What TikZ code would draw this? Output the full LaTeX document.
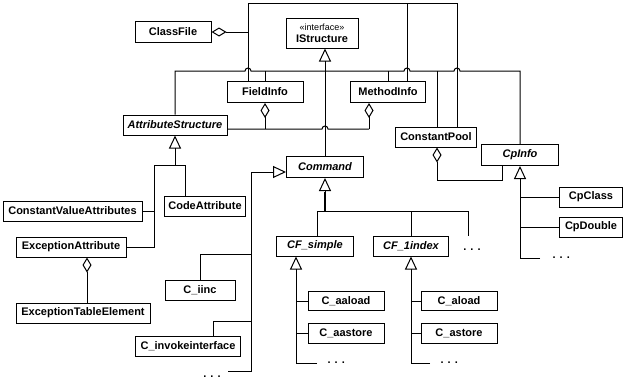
\documentclass[tikz,border=0pt]{standalone}
\usepackage{fontspec}
\setmainfont{Liberation Sans}
\usetikzlibrary{arrows.meta, positioning}
\tikzstyle{classbox} = [
    rectangle,
    minimum height=20pt,
    inner sep=0pt,
    draw=black,
    font=\fontsize{11}{12}\selectfont\bfseries
]
\tikzstyle{abstractbox} = [
    classbox,
    font=\fontsize{11}{12}\selectfont\bfseries\itshape
]
\tikzstyle{dots} = [
    inner sep=0pt,
    font=\fontsize{11}{12}\selectfont\bfseries
]
\tikzstyle{inherit} = [-{Triangle[open,length=13pt,width=12pt]}]
\tikzstyle{aggreg} = [{Diamond[open,length=15pt,width=9pt]}-]

\begin{document}
\begin{tikzpicture}[x=1pt, y=-1pt, line width=1pt]
\useasboundingbox (0,0) rectangle (637,388);

\node (classfile) [classbox, minimum width=76pt, minimum height=21pt] at (173,32) {ClassFile};
\node (istructure) [classbox, minimum width=72pt, minimum height=30pt, align=center] at (322,33)
{{\mdseries\fontsize{9}{10}\selectfont «interface»}\\IStructure};
\node (fieldinfo) [classbox, minimum width=76pt, minimum height=21pt] at (265,92) {FieldInfo};
\node (methodinfo) [classbox, minimum width=75pt, minimum height=21pt] at (388,92) {MethodInfo};
\node (attrstruct) [abstractbox, minimum width=104pt] at (175,125) {AttributeStructure};
\node (constantpool) [classbox, minimum width=81pt] at (436,137) {ConstantPool};
\node (cpinfo) [abstractbox, minimum width=77pt, minimum height=21pt] at (520,155) {CpInfo};
\node (command) [abstractbox, minimum width=77pt, minimum height=21pt] at (325,167) {Command};
\node (cpclass) [classbox, minimum width=63pt] at (591,197) {CpClass};
\node (cpdouble) [classbox, minimum width=63pt] at (591,227) {CpDouble};

\node (constvalattr) [classbox, minimum width=139pt] at (72.5,211) {ConstantValueAttributes};
\node (codeattr) [classbox, minimum width=81pt] at (205,206) {CodeAttribute};
\node (exceptattr) [classbox, minimum width=110pt] at (71,247) {ExceptionAttribute};
\node (exctable) [classbox, minimum width=134pt] at (83,313) {ExceptionTableElement};

\node (ciinc) [classbox, minimum width=70pt] at (200,290) {C\_iinc};
\node (cinvoke) [classbox, minimum width=105pt] at (188,346) {C\_invokeinterface};

\node (cfsimple) [abstractbox, minimum width=77pt] at (315,246) {CF\_simple};
\node (cf1index) [abstractbox, minimum width=75pt] at (411,246) {CF\_1index};
\node (caaload) [classbox, minimum width=76pt, minimum height=19pt] at (346,301) {C\_aaload};
\node (caastore) [classbox, minimum width=76pt] at (346,333) {C\_aastore};
\node (caload) [classbox, minimum width=76pt, minimum height=19pt] at (459,301) {C\_aload};
\node (castore) [classbox, minimum width=76pt] at (459,333) {C\_astore};

% ClassFile aggregates
\draw [aggreg] (classfile.east) -- (248,0 |- classfile.east);
\draw (248,0 |- fieldinfo.north) -- (248,3) -- (457,3) -- (457,0 |- constantpool.north);
\draw (407,3) -- (407,0 |- methodinfo.north);

% IStructure
\draw [inherit] (325,71) -- (325,0 |- istructure.south);
\draw (attrstruct.north) |- (245,71) arc[start angle=180, end angle=360, radius=3]
    -- (404,71) arc[start angle=180, end angle=360, radius=3]
    -- (454,71) arc[start angle=180, end angle=360, radius=3] -| (cpinfo.north);
\draw (fieldinfo.north) -- (fieldinfo.north |- 0,71);
\draw (methodinfo.north) -- (methodinfo.north |- 0,71);
\draw (437,0 |- constantpool.north) -- (437,71);
\draw (325,71) -- (command.north);

% AttributeStructure aggregated
\draw [aggreg] (fieldinfo.south) -- (fieldinfo.south |- 0,129);
\draw [aggreg] (369,0 |- methodinfo.south) -- (369,129);
\draw (attrstruct.east |- 0,129) -- (322,129) arc[start angle=180, end angle=360, radius=3] -- (369,129);

% ConstantPool aggregates CpInfo
\draw [aggreg] (437,0 |- constantpool.south) |- (502,180) -- (502,0 |- cpinfo.south);

% CpInfo subclasses
\coordinate (cpend) at (540,258);
\node (cpmore) [dots, right=12pt of cpend] {. . .};
\draw [inherit] (cpend) -| (cpinfo.south);
\draw (cpclass.west) -- (cpclass.west -| cpinfo.south);
\draw (cpdouble.west) -- (cpdouble.west -| cpinfo.south);

% Command subclasses
\draw [inherit] (325,211) -- (command.south);
\draw [line width=2pt] (325,211) -- (325,192);
\draw (cfsimple.north -| 317,0) |- (468,211) -- (468,236);
\draw (cf1index.north) -- (cf1index.north |- 0,211);
\node (cmdmore) [dots] at (472,250) {. . .};

\coordinate (leftend) at (228,371);
\node (leftmore) [dots] at (212,377) {. . .};
\draw [inherit] (leftend) -| (251,172) -- (command.west |- 0,172);
\draw (ciinc.north) |- (251,254);
\draw (213,0 |- cinvoke.north) |- (251,321);

% CF_simple subclasses
\coordinate (simpleend) at (317,363);
\node (simplemore) [dots, right=10pt of simpleend] {. . .};
\draw [inherit] (simpleend) -| (296,0 |- cfsimple.south);
\draw (caaload.west) -- (caaload.west -| 296,0);
\draw (caastore.west) -- (caastore.west -| 296,0);

% CF_1index subclasses
\coordinate (indexend) at (430,363);
\node (indexmore) [dots, right=10pt of indexend] {. . .};
\draw [inherit] (indexend) -| (cf1index.south);
\draw (caload.west) -- (caload.west -| cf1index.south);
\draw (castore.west) -- (castore.west -| cf1index.south);

% AttributeStructure subclasses
\draw [inherit] (exceptattr.east) -| (154,165) -| (attrstruct.south);
\draw (constvalattr.east) -- (constvalattr.east -| 154,0);
\draw (185,0 |- codeattr.north) |- (attrstruct.south |- 0,165);

% ExceptionAttribute aggregates
\draw [aggreg] (87,0 |- exceptattr.south) -- (87,0 |- exctable.north);

\end{tikzpicture}
\end{document}
